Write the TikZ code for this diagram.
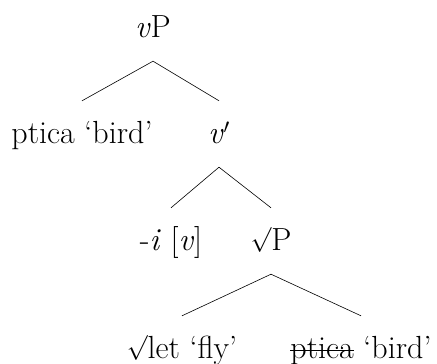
\documentclass[tikz,border=0pt]{standalone}
\newcommand{\strk}[1]{\setbox0\hbox{#1}\rlap{\rule[.22em]{\wd0}{.045em}}\box0\relax}
\newcommand{\rt}{\raisebox{.12em}{$\surd$}}
\tikzset{lbl/.style={inner sep=0pt,anchor=base,text height=42pt,text depth=24pt,font=\fontsize{32}{38}\selectfont},
  branch/.style={line width=.6pt}}

\begin{document}
\begin{tikzpicture}[x=1pt,y=-1pt]
\useasboundingbox(0,0)rectangle(437,364);
\node[lbl](vp)at(153,37){\textit{v}P};
\node[lbl](spec)at(82,143){ptica `bird'};\node[lbl](vbar)at(219,143){\textit{v}$'$};
\node[lbl](vhead)at(171,250){-\textit{i} [\textit{v}]};\node[lbl](rootp)at(271,250){\rt P};
\node[lbl](root)at(182,358){\rt let `fly'};\node[lbl](copy)at(361,358){\strk{ptica} `bird'};
\draw[branch](spec.north)--(vp.south)--(vbar.north);
\draw[branch](vhead.north)--(vbar.south)--(rootp.north);
\draw[branch](root.north)--(rootp.south)--(copy.north);
\end{tikzpicture}
\end{document}
